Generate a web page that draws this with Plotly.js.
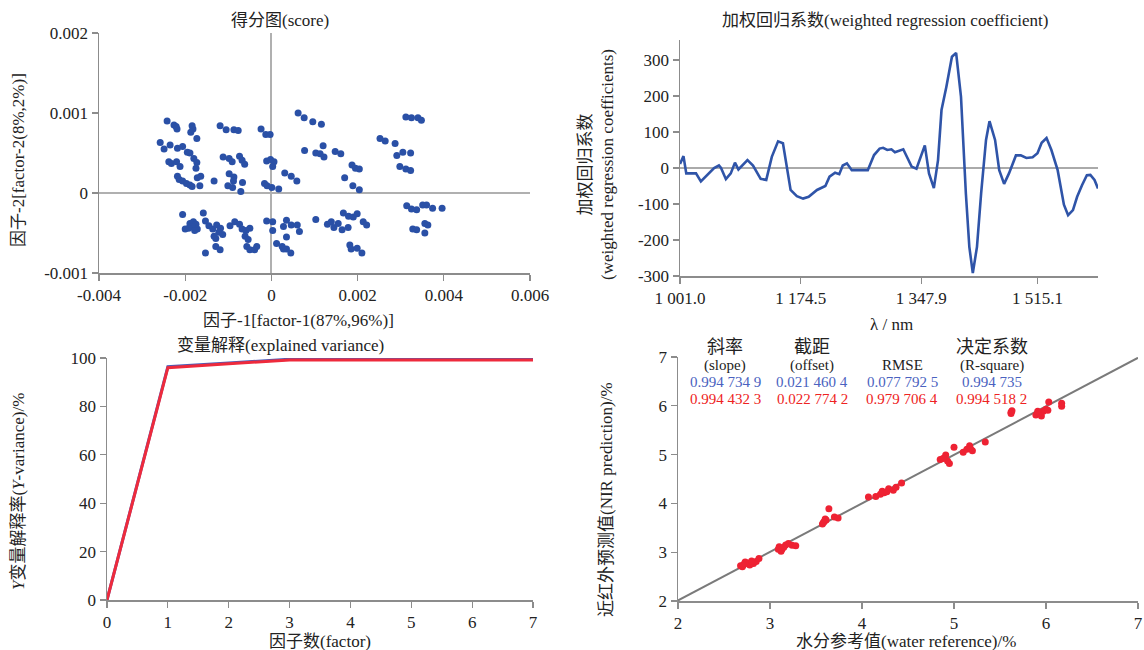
<!DOCTYPE html>
<html>
<head>
<meta charset="utf-8">
<script src="https://cdn.plot.ly/plotly-3.0.1.min.js"></script>
<style>
  html, body { margin: 0; padding: 0; background: #fff; }
  #chart { width: 1144px; height: 650px; }
</style>
</head>
<body>
<div id="chart"></div>
<script>
// ---- Score plot (factor-1 vs factor-2) ----
const scoreX = [
  -0.00242,-0.00226,-0.00221,-0.00219,-0.00184,-0.00182,-0.00187,-0.00173,-0.00119,-0.00105,
  -0.00087,-0.00077,-0.00024,-0.00013,-0.00003,-0.00258,-0.00249,-0.00235,-0.00218,-0.00206,
  -0.00195,-0.00189,-0.00180,-0.00173,-0.00175,-0.00238,-0.00232,-0.00220,-0.00212,-0.00218,
  -0.00214,-0.00206,-0.00197,-0.00189,-0.00184,-0.00172,-0.00164,-0.00166,-0.00133,-0.00112,
  -0.00098,-0.00091,-0.00074,-0.00068,-0.00062,-0.00098,-0.00087,-0.00088,-0.00101,-0.00090,
  -0.00071,-0.00067,-0.00011,-0.00002,0.00006,0.00003,-0.00016,-0.00010,0.00001,0.00017,
  0.00031,-0.00206,-0.00158,-0.00189,-0.00181,-0.00175,-0.00184,-0.00192,-0.00172,-0.00178,
  -0.00200,-0.00153,-0.00145,-0.00136,-0.00127,-0.00118,-0.00122,-0.00113,-0.00133,-0.00129,
  -0.00096,-0.00085,-0.00074,-0.00068,-0.00059,-0.00050,-0.00061,-0.00054,-0.00129,-0.00119,
  -0.00153,-0.00057,-0.00050,-0.00039,-0.00034,-0.00011,0.00003,0.00003,0.00012,0.00025,
  0.00035,0.00062,0.00076,0.00096,0.00116,0.00077,0.00103,0.00113,0.00120,0.00122,
  0.00148,0.00161,0.00187,0.00195,0.00204,0.00170,0.00189,0.00204,0.00046,0.00059,
  0.00252,0.00264,0.00287,0.00305,0.00291,0.00323,0.00298,0.00312,0.00323,0.00312,
  0.00325,0.00340,0.00348,0.00103,0.00130,0.00139,0.00145,0.00155,0.00164,0.00178,
  0.00167,0.00179,0.00190,0.00199,0.00213,0.00221,0.00182,0.00185,0.00199,0.00210,
  0.00028,0.00035,0.00046,0.00060,0.00065,0.00035,0.00028,0.00045,0.00314,0.00325,
  0.00337,0.00351,0.00360,0.00374,0.00396,0.00328,0.00337,0.00356,0.00363,0.00356
];
const scoreY = [
  0.00090,0.00085,0.00083,0.00080,0.00084,0.00080,0.00076,0.00068,0.00084,0.00079,
  0.00079,0.00078,0.00080,0.00073,0.00073,0.00063,0.00055,0.00060,0.00056,0.00058,
  0.00051,0.00050,0.00043,0.00038,0.00031,0.00039,0.00037,0.00039,0.00033,0.00021,
  0.00017,0.00015,0.00012,0.00010,0.00008,0.00019,0.00021,0.00009,0.00015,0.00045,
  0.00043,0.00039,0.00046,0.00041,0.00036,0.00024,0.00020,0.00015,0.00009,0.00007,
  0.00002,0.00013,0.00040,0.00042,0.00039,0.00033,0.00012,0.00009,0.00007,0.00005,
  0.00025,-0.00027,-0.00025,-0.00038,-0.00036,-0.00039,-0.00042,-0.00044,-0.00045,-0.00047,
  -0.00045,-0.00035,-0.00041,-0.00045,-0.00040,-0.00044,-0.00049,-0.00052,-0.00054,-0.00057,
  -0.00041,-0.00036,-0.00039,-0.00045,-0.00047,-0.00044,-0.00054,-0.00058,-0.00067,-0.00071,
  -0.00075,-0.00067,-0.00071,-0.00071,-0.00067,-0.00035,-0.00036,-0.00047,-0.00063,-0.00067,
  -0.00070,0.00100,0.00094,0.00089,0.00086,0.00053,0.00050,0.00049,0.00059,0.00045,
  0.00052,0.00049,0.00035,0.00031,0.00030,0.00019,0.00009,0.00004,0.00021,0.00015,
  0.00068,0.00065,0.00062,0.00051,0.00047,0.00050,0.00033,0.00030,0.00028,0.00095,
  0.00094,0.00094,0.00091,-0.00033,-0.00039,-0.00036,-0.00043,-0.00038,-0.00046,-0.00043,
  -0.00025,-0.00029,-0.00030,-0.00026,-0.00036,-0.00040,-0.00065,-0.00070,-0.00069,-0.00075,
  -0.00042,-0.00034,-0.00040,-0.00040,-0.00048,-0.00055,-0.00070,-0.00075,-0.00016,-0.00020,
  -0.00021,-0.00015,-0.00015,-0.00019,-0.00019,-0.00045,-0.00046,-0.00038,-0.00040,-0.00050
];

// ---- Weighted regression coefficients ----
const wavelength = [
  1001,1006,1010,1015,1024,1031,1039,1050,1057,1060,1067,1074,1080,1085,1098,1106,1117,1125,
  1133,1142,1149,1154,1160,1169,1178,1186,1198,1210,1216,1224,1230,1235,1241,1248,1259,1271,
  1280,1288,1293,1299,1305,1310,1322,1328,1334,1341,1347,1353,1359,1366,1372,1377,1384,1392,
  1398,1405,1412,1417,1422,1428,1434,1441,1446,1454,1460,1467,1474,1484,1491,1499,1508,1515,
  1521,1528,1535,1544,1553,1559,1566,1572,1579,1586,1591,1597,1602
];
const coefficient = [
  11,33,-15,-15,-15,-37,-22,0,7,0,-31,-15,15,-4,22,7,-30,-33,
  31,74,69,13,-61,-78,-85,-80,-61,-50,-24,-13,-17,7,13,-6,-6,-6,
  36,54,56,50,52,44,52,26,4,-2,31,63,-15,-56,22,161,226,309,
  320,198,-70,-219,-292,-219,-70,78,130,78,-6,-44,-15,35,35,28,30,41,
  70,83,50,-6,-102,-131,-117,-80,-48,-20,-19,-33,-57
];
const wlTicks = [1001.0, 1174.5, 1347.9, 1515.1];
const wlTickText = ['1 001.0', '1 174.5', '1 347.9', '1 515.1'];

// ---- Explained variance ----
const factorNum = [0, 1, 2, 3, 4, 5, 6, 7];
const varianceBlue = [0, 96.4, 97.9, 99.5, 99.5, 99.5, 99.5, 99.5];
const varianceRed = [0, 96.0, 97.6, 99.2, 99.2, 99.2, 99.2, 99.2];

// ---- Reference vs NIR prediction ----
const waterRef = [
  2.68,2.70,2.72,2.75,2.78,2.82,2.85,2.88,2.73,2.80,2.71,
  3.10,3.13,3.17,3.20,3.24,3.28,3.12,3.15,3.09,
  3.59,3.57,3.61,3.64,3.70,3.74,3.58,3.60,
  4.07,4.15,4.20,4.24,4.29,4.34,4.37,4.43,4.22,4.27,
  4.85,4.90,4.93,4.95,4.91,5.00,5.10,5.14,5.17,5.20,5.34,4.88,5.18,
  5.62,5.62,5.63,5.89,5.93,5.97,6.00,6.02,5.95,5.91,6.03,6.17,6.17
];
const nirPred = [
  2.72,2.70,2.76,2.78,2.74,2.77,2.81,2.87,2.80,2.82,2.74,
  3.11,3.06,3.15,3.18,3.14,3.13,3.02,3.10,3.06,
  3.63,3.58,3.66,3.89,3.72,3.70,3.61,3.68,
  4.13,4.14,4.19,4.22,4.30,4.27,4.33,4.42,4.25,4.24,
  4.90,4.94,4.87,4.82,4.99,5.15,5.05,5.11,5.18,5.08,5.26,4.92,5.12,
  5.87,5.84,5.90,5.81,5.85,5.89,5.93,5.91,5.79,5.89,6.08,6.05,5.99
];
const fitSlope = 0.9947349;
const fitOffset = 0.0214604;
const fitX = [2, 7];
const fitY = fitX.map(v => fitSlope * v + fitOffset);

const statHeads = ['斜率', '截距', '', '决定系数'];
const statSubs = ['(slope)', '(offset)', 'RMSE', '(R-square)'];
const statBlue = ['0.994 734 9', '0.021 460 4', '0.077 792 5', '0.994 735'];
const statRed = ['0.994 432 3', '0.022 774 2', '0.979 706 4', '0.994 518 2'];

// ---- Styling ----
const FONT = 'Liberation Serif, Noto Sans CJK SC, serif';
const AXIS_GRAY = '#8c8c8c';
const W = 1144, H = 650;
const px = v => v / W;
const py = v => 1 - v / H;

function axisBase(extra) {
  return Object.assign({
    showline: true, linecolor: AXIS_GRAY, linewidth: 1.5,
    ticks: 'outside', ticklen: 6, tickwidth: 1.2, tickcolor: AXIS_GRAY,
    tickfont: { family: FONT, size: 17, color: '#222' },
    showgrid: false, zeroline: false, fixedrange: true
  }, extra);
}

const traces = [
  { type: 'scatter', mode: 'markers', x: scoreX, y: scoreY, xaxis: 'x', yaxis: 'y',
    marker: { color: '#2a50a6', size: 7 }, hoverinfo: 'skip' },
  { type: 'scatter', mode: 'lines', x: wavelength, y: coefficient, xaxis: 'x2', yaxis: 'y2',
    line: { color: '#2f54a8', width: 2.6 }, hoverinfo: 'skip' },
  { type: 'scatter', mode: 'lines', x: factorNum, y: varianceBlue, xaxis: 'x3', yaxis: 'y3',
    line: { color: '#4a5db8', width: 3 }, hoverinfo: 'skip' },
  { type: 'scatter', mode: 'lines', x: factorNum, y: varianceRed, xaxis: 'x3', yaxis: 'y3',
    line: { color: '#ee2a3c', width: 3 }, hoverinfo: 'skip' },
  { type: 'scatter', mode: 'lines', x: fitX, y: fitY, xaxis: 'x4', yaxis: 'y4',
    line: { color: '#7a7a7a', width: 2 }, hoverinfo: 'skip' },
  { type: 'scatter', mode: 'markers', x: waterRef, y: nirPred, xaxis: 'x4', yaxis: 'y4',
    marker: { color: '#ee2233', size: 7 }, hoverinfo: 'skip', cliponaxis: false }
];

const annotations = [];
function addText(text, x, y, opts) {
  annotations.push(Object.assign({
    text: text, xref: 'paper', yref: 'paper', x: px(x), y: py(y),
    xanchor: 'center', yanchor: 'middle', showarrow: false,
    font: { family: FONT, size: 17, color: '#222' }
  }, opts || {}));
}

// Panel titles
addText('得分图(score)', 280, 20);
addText('加权回归系数(weighted regression coefficient)', 885, 20);
addText('变量解释(explained variance)', 280, 346);

// Axis titles
addText('因子-1[factor-1(87%,96%)]', 298, 320);
addText('因子-2[factor-2(8%,2%)]', 18, 160, { textangle: -90 });
addText('λ / nm', 891, 324);
addText('加权回归系数<br>(weighted regression coefficients)', 596, 165, { textangle: -90 });
addText('因子数(factor)', 320, 641);
addText('<i>Y</i>变量解释率(<i>Y</i>-variance)/%', 18, 492, { textangle: -90 });
addText('水分参考值(water reference)/%', 906, 641);
addText('近红外预测值(NIR prediction)/%', 606, 500, { textangle: -90 });

// Fit statistics table
const colX = [725, 812, 902, 992];
for (let i = 0; i < colX.length; i++) {
  if (statHeads[i]) addText(statHeads[i], colX[i], 347, { font: { family: FONT, size: 18, color: '#222' } });
  addText(statSubs[i], colX[i], 365, { font: { family: FONT, size: 15, color: '#222' } });
  addText(statBlue[i], colX[i], 382, { font: { family: FONT, size: 15, color: '#4a62c0' } });
  addText(statRed[i], colX[i], 399, { font: { family: FONT, size: 15, color: '#ee2222' } });
}

const layout = {
  width: W, height: H,
  margin: { l: 0, r: 0, t: 0, b: 0 },
  paper_bgcolor: '#fff', plot_bgcolor: 'rgba(0,0,0,0)',
  showlegend: false,
  font: { family: FONT, color: '#222' },
  xaxis: axisBase({ domain: [px(99), px(530)], anchor: 'y', range: [-0.004, 0.006],
    tickvals: [-0.004, -0.002, 0, 0.002, 0.004, 0.006],
    ticktext: ['-0.004', '-0.002', '0', '0.002', '0.004', '0.006'],
    zeroline: true, zerolinecolor: '#b0b0b0', zerolinewidth: 2 }),
  yaxis: axisBase({ domain: [py(273), py(33)], anchor: 'x', range: [-0.001, 0.002],
    tickvals: [-0.001, 0, 0.001, 0.002], ticktext: ['-0.001', '0', '0.001', '0.002'],
    zeroline: true, zerolinecolor: '#b0b0b0', zerolinewidth: 2 }),
  xaxis2: axisBase({ domain: [px(680), px(1098)], anchor: 'y2', range: [1001, 1602],
    tickvals: wlTicks, ticktext: wlTickText }),
  yaxis2: axisBase({ domain: [py(276), py(40)], anchor: 'x2', range: [-300, 355.6],
    tickvals: [-300, -200, -100, 0, 100, 200, 300],
    ticktext: ['-300', '-200', '-100', '0', '100', '200', '300'],
    zeroline: true, zerolinecolor: '#aaaaaa', zerolinewidth: 2 }),
  xaxis3: axisBase({ domain: [px(107), px(533)], anchor: 'y3', range: [0, 7], dtick: 1 }),
  yaxis3: axisBase({ domain: [py(600), py(358)], anchor: 'x3', range: [0, 100], dtick: 20 }),
  xaxis4: axisBase({ domain: [px(678), px(1138)], anchor: 'y4', range: [2, 7], dtick: 1 }),
  yaxis4: axisBase({ domain: [py(601), py(357)], anchor: 'x4', range: [2, 7], dtick: 1 }),
  annotations: annotations
};

Plotly.newPlot('chart', traces, layout, { staticPlot: true, displayModeBar: false });
</script>
</body>
</html>
